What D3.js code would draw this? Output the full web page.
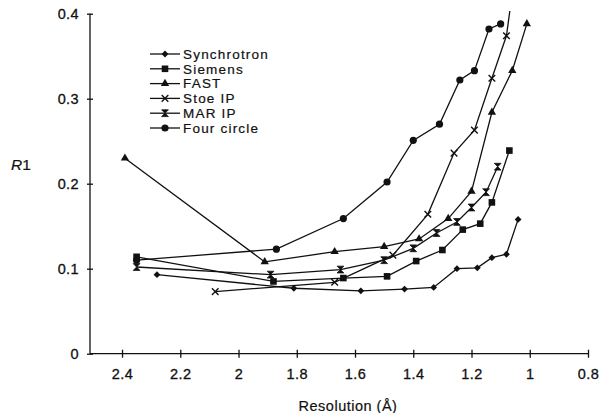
<!DOCTYPE html>
<html>
<head>
<meta charset="utf-8">
<script src="https://cdn.jsdelivr.net/npm/d3@7"></script>
<style>
  body { margin: 0; background: #fff; }
  text { font-family: "Liberation Sans", Arial, sans-serif; fill: #111; }
</style>
</head>
<body>
<div id="chart"></div>
<script>
// resolution (A) and R1 values
var synchrotronRes = [2.28, 1.81, 1.58, 1.43, 1.33, 1.25, 1.18, 1.13, 1.08, 1.04];
var synchrotronR1  = [0.093, 0.077, 0.074, 0.076, 0.078, 0.100, 0.101, 0.113, 0.117, 0.158];
var siemensRes = [2.35, 1.88, 1.64, 1.49, 1.39, 1.30, 1.23, 1.17, 1.13, 1.07];
var siemensR1  = [0.114, 0.085, 0.089, 0.091, 0.109, 0.122, 0.146, 0.153, 0.178, 0.239];
var fastRes = [2.39, 1.91, 1.67, 1.50, 1.38, 1.28, 1.20, 1.13, 1.06, 1.01];
var fastR1  = [0.230, 0.108, 0.120, 0.126, 0.135, 0.159, 0.191, 0.284, 0.333, 0.388];
var stoeRes = [2.08, 1.67, 1.47, 1.35, 1.26, 1.19, 1.13, 1.08, 1.05];
var stoeR1  = [0.073, 0.084, 0.116, 0.164, 0.236, 0.263, 0.324, 0.374, 0.45];
var marRes = [2.35, 1.89, 1.65, 1.50, 1.40, 1.32, 1.25, 1.20, 1.15, 1.11];
var marR1  = [0.102, 0.093, 0.099, 0.110, 0.124, 0.142, 0.155, 0.172, 0.190, 0.220];
var fourRes = [2.35, 1.87, 1.64, 1.49, 1.40, 1.31, 1.24, 1.19, 1.14, 1.10];
var fourR1  = [0.110, 0.123, 0.159, 0.202, 0.251, 0.270, 0.322, 0.333, 0.382, 0.388];

var seriesNames = ["Synchrotron", "Siemens", "FAST", "Stoe IP", "MAR IP", "Four circle"];
var seriesMarkers = ["diamond", "square", "triangle", "cross", "hourglass", "circle"];
var xTicks = [2.4, 2.2, 2, 1.8, 1.6, 1.4, 1.2, 1, 0.8];
var yTicks = [0, 0.1, 0.2, 0.3, 0.4];

var allRes = [synchrotronRes, siemensRes, fastRes, stoeRes, marRes, fourRes];
var allR1 = [synchrotronR1, siemensR1, fastR1, stoeR1, marR1, fourR1];

var svgWidth = 602, svgHeight = 413;

var svg = d3.select("#chart").append("svg")
  .attr("width", svgWidth)
  .attr("height", svgHeight);

// reversed resolution axis
var x = d3.scaleLinear().domain([2.51, 0.8]).range([90, 588]);
var y = d3.scaleLinear().domain([0, 0.4]).range([353.7, 13.7]);

svg.append("defs").append("clipPath").attr("id", "plotClip")
  .append("rect").attr("x", 80).attr("y", 11).attr("width", 520).attr("height", 350);

// axes
var xAxis = svg.append("g")
  .attr("transform", "translate(0," + y(0) + ")")
  .call(d3.axisBottom(x).tickValues(xTicks).tickFormat(d3.format("")).tickSize(4).tickPadding(11));
xAxis.select(".domain").attr("d", "M" + x(2.51) + ",0H" + x(0.8)).attr("stroke", "#111").attr("stroke-width", 1.3);
xAxis.selectAll(".tick line").attr("y1", -4).attr("y2", 4).attr("stroke", "#111").attr("stroke-width", 1.3);
xAxis.selectAll(".tick text").attr("font-size", 14.5).attr("letter-spacing", 0.4)
  .attr("fill", "#111").attr("stroke", "#111").attr("stroke-width", 0.3);

var yAxis = svg.append("g")
  .attr("transform", "translate(" + x(2.51) + ",0)")
  .call(d3.axisLeft(y).tickValues(yTicks).tickFormat(d3.format("")).tickSize(3).tickPadding(8));
yAxis.select(".domain").attr("d", "M0," + y(0) + "V" + y(0.4)).attr("stroke", "#111").attr("stroke-width", 1.3);
yAxis.selectAll(".tick line").attr("x1", -3).attr("x2", 3).attr("stroke", "#111").attr("stroke-width", 1.3);
yAxis.selectAll(".tick text").attr("font-size", 14.5).attr("letter-spacing", 0.4)
  .attr("fill", "#111").attr("stroke", "#111").attr("stroke-width", 0.3);

// axis titles
svg.append("text")
  .attr("x", 348).attr("y", 411)
  .attr("text-anchor", "middle")
  .attr("font-size", 14.5)
  .attr("letter-spacing", 0.5)
  .attr("stroke", "#111").attr("stroke-width", 0.2)
  .text("Resolution (Å)");

var r1 = svg.append("text").attr("x", 11).attr("y", 170).attr("font-size", 15.5)
  .attr("stroke", "#111").attr("stroke-width", 0.2);
r1.append("tspan").attr("font-style", "italic").text("R");
r1.append("tspan").text("1");

// marker drawing
function drawMarker(g, type) {
  if (type === "circle") {
    g.append("circle").attr("r", 3.6).attr("fill", "#111");
  } else if (type === "square") {
    g.append("rect").attr("x", -3.3).attr("y", -3.3).attr("width", 6.6).attr("height", 6.6).attr("fill", "#111");
  } else if (type === "triangle") {
    g.append("path").attr("d", d3.symbol(d3.symbolTriangle, 30)()).attr("fill", "#111");
  } else if (type === "diamond") {
    g.append("path").attr("d", "M0,-3.4L3.4,0L0,3.4L-3.4,0Z").attr("fill", "#111");
  } else if (type === "cross") {
    g.append("path").attr("d", "M-3.3,-3.3L3.3,3.3M3.3,-3.3L-3.3,3.3")
      .attr("stroke", "#111").attr("stroke-width", 1.4).attr("fill", "none");
  } else if (type === "hourglass") {
    g.append("path").attr("d", "M-3.4,-3.4L3.4,-3.4L-3.4,3.4L3.4,3.4Z").attr("fill", "#111")
      .attr("stroke", "#111").attr("stroke-width", 0.8);
  }
}

var line = d3.line()
  .x(d => x(d.res))
  .y(d => y(d.r1));

var plot = svg.append("g").attr("clip-path", "url(#plotClip)");

seriesNames.forEach(function(name, i) {
  var data = allRes[i].map((res, j) => ({ res: res, r1: allR1[i][j] }));
  plot.append("path")
    .datum(data)
    .attr("d", line)
    .attr("fill", "none")
    .attr("stroke", "#111")
    .attr("stroke-width", 1.3);
  plot.selectAll(".m" + i)
    .data(data.filter(d => d.r1 <= 0.4))
    .enter()
    .append("g")
    .attr("class", "m" + i)
    .attr("transform", d => "translate(" + x(d.res) + "," + y(d.r1) + ")")
    .each(function() { drawMarker(d3.select(this), seriesMarkers[i]); });
});

// legend
var legend = svg.append("g");
seriesNames.forEach(function(name, i) {
  var ly = 54 + i * 14.8;
  legend.append("line")
    .attr("x1", 150).attr("x2", 180).attr("y1", ly).attr("y2", ly)
    .attr("stroke", "#111").attr("stroke-width", 1.3);
  drawMarker(legend.append("g").attr("transform", "translate(165," + ly + ")"), seriesMarkers[i]);
  legend.append("text")
    .attr("x", 183).attr("y", ly + 4.8)
    .attr("font-size", 13.5)
    .attr("letter-spacing", 1.2)
    .attr("stroke", "#111").attr("stroke-width", 0.2)
    .text(name);
});
</script>
</body>
</html>
